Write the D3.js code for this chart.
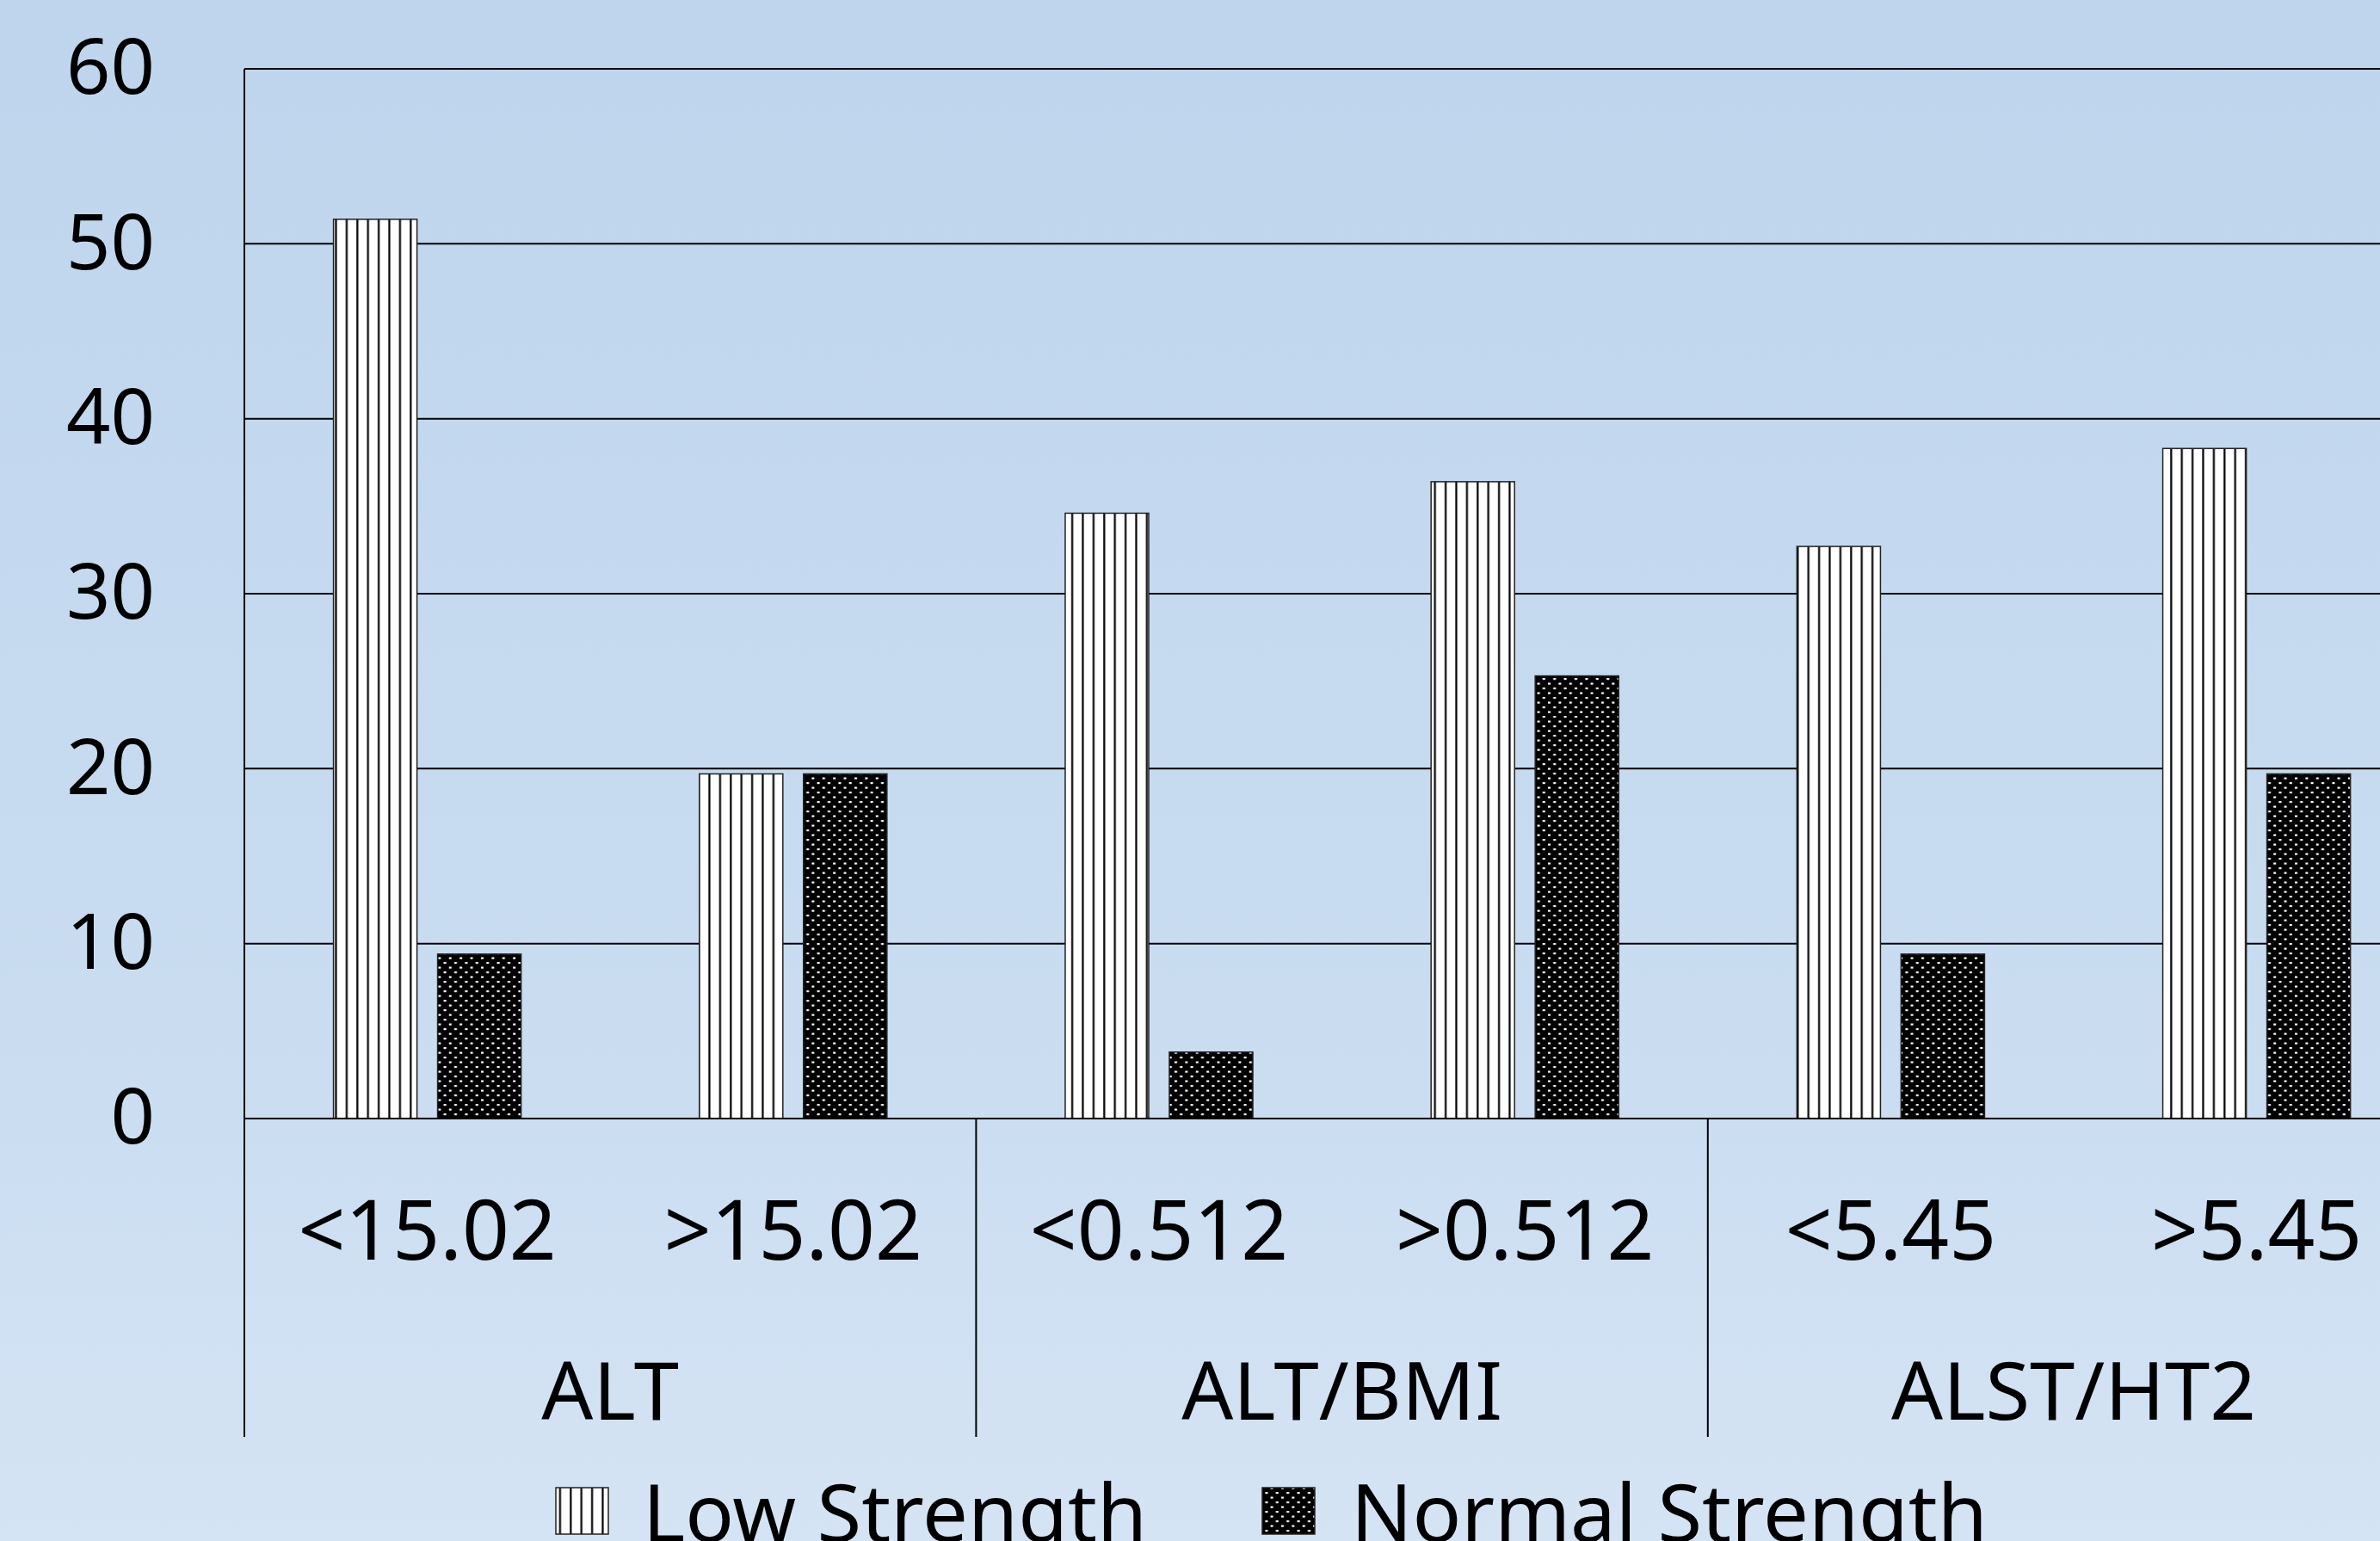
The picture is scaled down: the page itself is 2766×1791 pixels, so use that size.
<!DOCTYPE html>
<html>
<head>
<meta charset="utf-8">
<script src="https://cdn.jsdelivr.net/npm/d3@7"></script>
<style>
  html, body { margin: 0; padding: 0; overflow: hidden; }
  svg { display: block; }
  text { font-family: "Noto Sans", "Open Sans", sans-serif; fill: #000; }
</style>
</head>
<body>
<script>
// ---- data ----
const categories = ["<15.02", ">15.02", "<0.512", ">0.512", "<5.45", ">5.45"];
const groups = ["ALT", "ALT/BMI", "ALST/HT2"];
const lowStrength = [51.4, 19.7, 34.6, 36.4, 32.7, 38.3];
const normalStrength = [9.4, 19.7, 3.8, 25.3, 9.4, 19.7];
const yTicks = [0, 10, 20, 30, 40, 50, 60];
const seriesNames = ["Low Strength", "Normal Strength"];

// ---- layout ----
const W = 2766, H = 1791;
const plotLeft = 284, plotTop = 80, plotBottom = 1300;
const step = 425.2;
const plotRight = plotLeft + step * categories.length;
const dividerBottom = 1670;

const svg = d3.select("body").append("svg").attr("width", W).attr("height", H);
const defs = svg.append("defs");

// background gradient
const bg = defs.append("linearGradient").attr("id", "bg").attr("x1", 0).attr("y1", 0).attr("x2", 0).attr("y2", 1);
bg.append("stop").attr("offset", "0%").attr("stop-color", "#BED5ED");
bg.append("stop").attr("offset", "70%").attr("stop-color", "#CADDF1");
bg.append("stop").attr("offset", "100%").attr("stop-color", "#D5E4F4");
svg.append("rect").attr("width", W).attr("height", H).attr("fill", "url(#bg)");

// patterns
const pv = defs.append("pattern").attr("id", "vlines").attr("patternUnits", "userSpaceOnUse")
  .attr("width", 12.4).attr("height", 10);
pv.append("rect").attr("width", 12.4).attr("height", 10).attr("fill", "#fff");
pv.append("rect").attr("x", 5).attr("width", 2.2).attr("height", 10).attr("fill", "#000");

const pd = defs.append("pattern").attr("id", "dots").attr("patternUnits", "userSpaceOnUse")
  .attr("width", 12.4).attr("height", 11);
pd.append("rect").attr("width", 12.4).attr("height", 11).attr("fill", "#000");
pd.append("rect").attr("x", 1).attr("y", 1.5).attr("width", 3).attr("height", 2.2).attr("fill", "#fff");
pd.append("rect").attr("x", 7.2).attr("y", 7).attr("width", 3).attr("height", 2.2).attr("fill", "#fff");

const fills = ["url(#vlines)", "url(#dots)"];

// scales
const x = d3.scaleBand().domain(categories).range([plotLeft, plotRight]).padding(0);
const xs = d3.scaleBand().domain(seriesNames).range([0, x.bandwidth()])
  .paddingInner(0.198).paddingOuter(0.856);
const y = d3.scaleLinear().domain([0, 60]).range([plotBottom, plotTop]);

// gridlines
svg.append("g").selectAll("line").data(yTicks.filter(d => d > 0)).join("line")
  .attr("x1", plotLeft).attr("x2", plotRight)
  .attr("y1", d => y(d)).attr("y2", d => y(d))
  .attr("stroke", "#000").attr("stroke-width", 2);

// y axis labels
const yAxis = d3.axisLeft(y).tickValues(yTicks).tickSize(0).tickPadding(104);
const ya = svg.append("g").attr("transform", `translate(${plotLeft},0)`).call(yAxis);
ya.select(".domain").remove();
ya.selectAll("text").attr("font-size", 90).attr("font-family", "Noto Sans").attr("fill", "#000");

// bars
const rows = categories.map((c, i) => ({ cat: c, vals: [lowStrength[i], normalStrength[i]] }));
const barG = svg.append("g");
rows.forEach(r => {
  r.vals.forEach((v, j) => {
    barG.append("rect")
      .attr("x", x(r.cat) + xs(seriesNames[j]))
      .attr("y", y(v))
      .attr("width", xs.bandwidth())
      .attr("height", y(0) - y(v))
      .attr("fill", fills[j])
      .attr("stroke", "#222").attr("stroke-width", 1.5);
  });
});

// axes lines
svg.append("line").attr("x1", plotLeft).attr("x2", plotLeft).attr("y1", plotTop).attr("y2", dividerBottom)
  .attr("stroke", "#000").attr("stroke-width", 2);
svg.append("line").attr("x1", plotLeft).attr("x2", plotRight).attr("y1", plotBottom).attr("y2", plotBottom)
  .attr("stroke", "#000").attr("stroke-width", 2);

// group dividers
const groupW = step * 2;
groups.forEach((g, i) => {
  const gx = plotLeft + i * groupW;
  svg.append("line").attr("x1", gx).attr("x2", gx).attr("y1", plotBottom).attr("y2", dividerBottom)
    .attr("stroke", "#000").attr("stroke-width", 2);
  svg.append("text").attr("x", gx + groupW / 2).attr("y", 1650)
    .attr("text-anchor", "middle").attr("font-size", 94).text(g);
});

// category labels
svg.append("g").selectAll("text").data(categories).join("text")
  .attr("x", d => x(d) + x.bandwidth() / 2).attr("y", 1464)
  .attr("text-anchor", "middle").attr("font-size", 96).text(d => d);

// legend
const legend = [
  { name: seriesNames[0], fill: fills[0], sx: 646, tx: 747 },
  { name: seriesNames[1], fill: fills[1], sx: 1467, tx: 1570 }
];
legend.forEach(l => {
  svg.append("rect").attr("x", l.sx).attr("y", 1729).attr("width", 61).attr("height", 54)
    .attr("fill", l.fill).attr("stroke", "#222").attr("stroke-width", 1.5);
  svg.append("text").attr("x", l.tx).attr("y", 1792).attr("font-size", 94).text(l.name);
});
</script>
</body>
</html>
